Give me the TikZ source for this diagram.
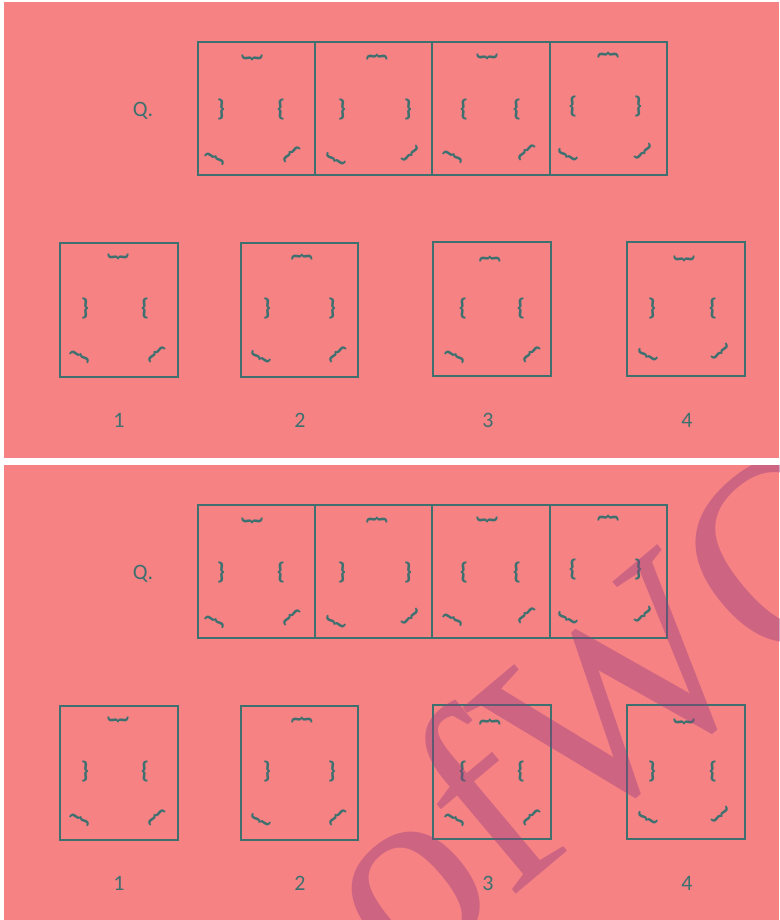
\documentclass[tikz,border=0pt]{standalone}
\usepackage{fontspec}
\setmainfont{Carlito}
\newfontfamily\wmfont{Liberation Serif}
\definecolor{bg}{RGB}{246,130,132}
\definecolor{ink}{RGB}{62,112,112}
\definecolor{wm}{RGB}{150,60,125}
\newcommand\mybr[5]{\node[brc,rotate=#4] (#1) at (#2,#3) {#5};}
% bottom-left / bottom-right brace rotations
\def\blin{63}\def\blout{-117}\def\brin{132}\def\brout{-48}
\newcommand\mypanel{%
  \fill[bg] (4,0) rectangle (779,456);
  % question strip
  \node[box,minimum width=117pt,minimum height=133pt] (q1) at (256.5,106.5) {};
  \node[box,minimum width=117pt,minimum height=133pt] (q2) at (373.5,106.5) {};
  \node[box,minimum width=118pt,minimum height=133pt] (q3) at (491,106.5) {};
  \node[box,minimum width=117pt,minimum height=133pt] (q4) at (608.5,106.5) {};
  \node[lab] (qlab) at (143,109) {Q.};
  % Q1
  \mybr{q1t}{252}{56}{-90}{\}}
  \mybr{q1l}{221}{108}{0}{\}}
  \mybr{q1r}{281}{108}{0}{\{}
  \mybr{q1bl}{215}{157}{\blin}{\}}
  \mybr{q1br}{292}{152}{\brin}{\}}
  % Q2
  \mybr{q2t}{377}{55}{90}{\}}
  \mybr{q2l}{342}{108}{0}{\}}
  \mybr{q2r}{408}{108}{0}{\}}
  \mybr{q2bl}{336}{157}{\blout}{\}}
  \mybr{q2br}{410}{152}{\brout}{\}}
  % Q3
  \mybr{q3t}{487}{55}{-90}{\}}
  \mybr{q3l}{464}{108}{0}{\{}
  \mybr{q3r}{517}{108}{0}{\{}
  \mybr{q3bl}{453}{155}{\blin}{\}}
  \mybr{q3br}{527}{150}{\brin}{\}}
  % Q4
  \mybr{q4t}{608}{53}{90}{\}}
  \mybr{q4l}{573}{105}{0}{\{}
  \mybr{q4r}{638}{105}{0}{\}}
  \mybr{q4bl}{568}{153}{\blout}{\}}
  \mybr{q4br}{643}{150}{\brout}{\}}
  % options
  \node[box,minimum width=118pt,minimum height=134pt] (o1) at (119,308) {};
  \node[box,minimum width=117pt,minimum height=134pt] (o2) at (299.5,308) {};
  \node[box,minimum width=118pt,minimum height=134pt] (o3) at (492,307) {};
  \node[box,minimum width=118pt,minimum height=134pt] (o4) at (686,307) {};
  \mybr{o1t}{118}{255}{-90}{\}}
  \mybr{o1l}{85}{307}{0}{\}}
  \mybr{o1r}{145}{307}{0}{\{}
  \mybr{o1bl}{80}{355}{\blin}{\}}
  \mybr{o1br}{157}{352}{\brin}{\}}
  \mybr{o2t}{302}{255}{90}{\}}
  \mybr{o2l}{267}{307}{0}{\}}
  \mybr{o2r}{332}{307}{0}{\}}
  \mybr{o2bl}{261}{355}{\blout}{\}}
  \mybr{o2br}{338}{352}{\brin}{\}}
  \mybr{o3t}{490}{257}{90}{\}}
  \mybr{o3l}{463}{307}{0}{\{}
  \mybr{o3r}{521}{307}{0}{\{}
  \mybr{o3bl}{455}{355}{\blin}{\}}
  \mybr{o3br}{532}{352}{\brin}{\}}
  \mybr{o4t}{684}{257}{-90}{\}}
  \mybr{o4l}{652}{307}{0}{\}}
  \mybr{o4r}{713}{307}{0}{\{}
  \mybr{o4bl}{648}{353}{\blout}{\}}
  \mybr{o4br}{720}{350}{\brout}{\}}
  \node[lab] (l1) at (119,418) {1};
  \node[lab] (l2) at (300,418) {2};
  \node[lab] (l3) at (488,418) {3};
  \node[lab] (l4) at (687,418) {4};
}
\begin{document}
\begin{tikzpicture}[x=1pt,y=-1pt,
  box/.style={draw=ink,line width=2.4pt,inner sep=0pt,outer sep=0pt},
  brc/.style={text=ink,font=\bfseries\fontsize{24}{24}\selectfont,inner sep=0pt},
  lab/.style={text=ink,font=\fontsize{22}{22}\selectfont,inner sep=0pt}]
\useasboundingbox (0,0) rectangle (779,920);
\fill[white] (0,0) rectangle (779,920);
\begin{scope}[name prefix=a-,shift={(0,2)}]
  \mypanel
\end{scope}
\begin{scope}[name prefix=b-,shift={(0,465)}]
  \mypanel
  \begin{scope}
    \clip (4,0) rectangle (779,455);
    \node[text=wm,opacity=0.42,font=\wmfont\fontsize{270}{270}\selectfont,rotate=40,inner sep=0pt] (wmark) at (603,235) {ofWO};
  \end{scope}
\end{scope}
\end{tikzpicture}
\end{document}
